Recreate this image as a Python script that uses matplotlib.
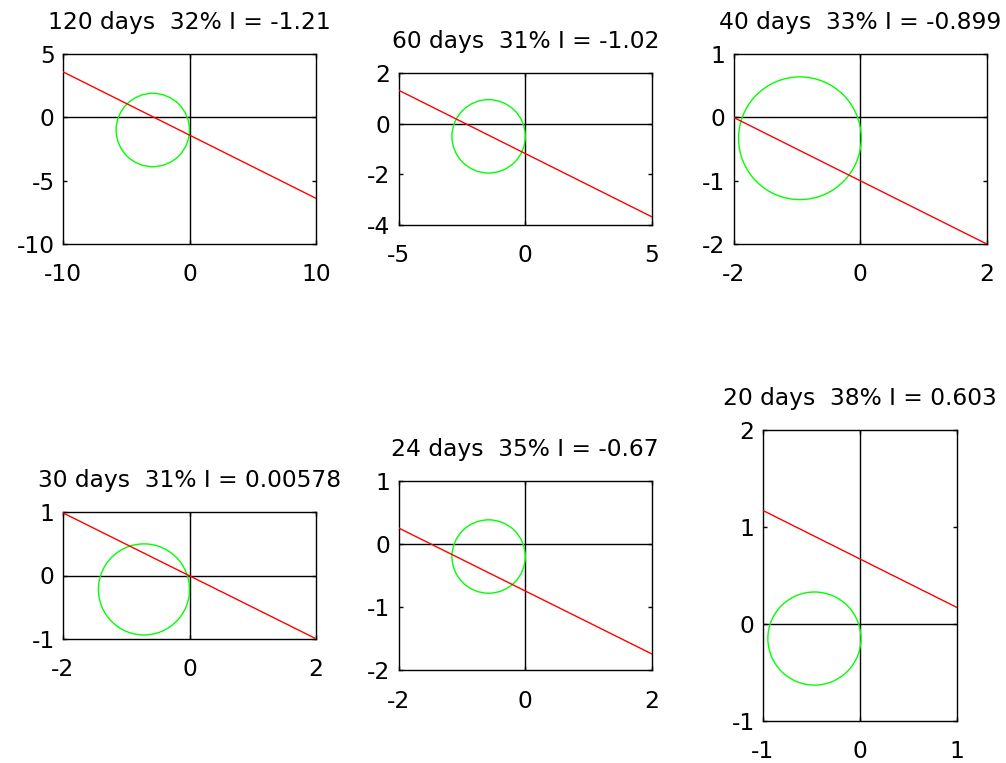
import matplotlib
matplotlib.use("Agg")
import matplotlib.pyplot as plt
from matplotlib.patches import Circle

plt.rcParams['font.family'] = ['DejaVu Sans']
plt.rcParams['axes.unicode_minus'] = False

# ---- data ----
days = [120, 60, 40, 30, 24, 20]
pct = [32, 31, 33, 31, 35, 38]
I_vals = [-1.21, -1.02, -0.899, 0.00578, -0.67, 0.603]

x_limits = [(-10, 10), (-5, 5), (-2, 2), (-2, 2), (-2, 2), (-1, 1)]
y_limits = [(-10, 5), (-4, 2), (-2, 1), (-1, 1), (-2, 1), (-1, 2)]
x_ticks = [[-10, 0, 10], [-5, 0, 5], [-2, 0, 2], [-2, 0, 2], [-2, 0, 2], [-1, 0, 1]]
y_ticks = [[-10, -5, 0, 5], [-4, -2, 0, 2], [-2, -1, 0, 1], [-1, 0, 1], [-2, -1, 0, 1], [-1, 0, 1, 2]]

# red line: y value at the left and right x limits
line_y_left = [3.6, 1.32, 0.0, 0.99, 0.25, 1.17]
line_y_right = [-6.4, -3.68, -2.0, -1.0, -1.74, 0.17]

# green circle: centre and radius
circ_x = [-2.9, -1.45, -0.95, -0.72, -0.58, -0.47]
circ_y = [-1.0, -0.5, -0.33, -0.22, -0.2, -0.15]
circ_r = [2.9, 1.45, 0.97, 0.72, 0.58, 0.48]

# ---- layout ----
W, H = 1006, 763
fig = plt.figure(figsize=(W / 100, H / 100), dpi=100)
cell_w, cell_h = 253 / W, 291 / H
lefts = [63 / W, 398.8 / W, 733.5 / W]
bottoms = [(H - 294.5) / H, (H - 721) / H]

FS = 16.8
for i in range(6):
    r, c = divmod(i, 3)
    ax = fig.add_axes([lefts[c], bottoms[r], cell_w, cell_h])
    x0, x1 = x_limits[i]
    ax.axhline(0, color='black', lw=1.0, zorder=1)
    ax.axvline(0, color='black', lw=1.0, zorder=1)
    ax.plot([x0, x1], [line_y_left[i], line_y_right[i]], color=(1, 0, 0), lw=1.0, zorder=3)
    ax.add_patch(Circle((circ_x[i], circ_y[i]), circ_r[i], fill=False,
                        edgecolor=(0, 1, 0), lw=1.0, zorder=2))
    ax.set_xlim(x_limits[i])
    ax.set_ylim(y_limits[i])
    ax.set_xticks(x_ticks[i])
    ax.set_yticks(y_ticks[i])
    ax.set_aspect('equal', adjustable='box', anchor='C')
    ax.tick_params(direction='in', length=3, width=1, top=True, right=True,
                   labelsize=FS, colors='black')
    ax.tick_params(axis='x', pad=14)
    ax.tick_params(axis='y', pad=6)
    for s in ax.spines.values():
        s.set_linewidth(1.0)
    ax.set_title(f"{days[i]} days  {pct[i]}% I = {I_vals[i]:.3g}", fontsize=FS, pad=18)

fig.savefig("out.png", dpi=100)
